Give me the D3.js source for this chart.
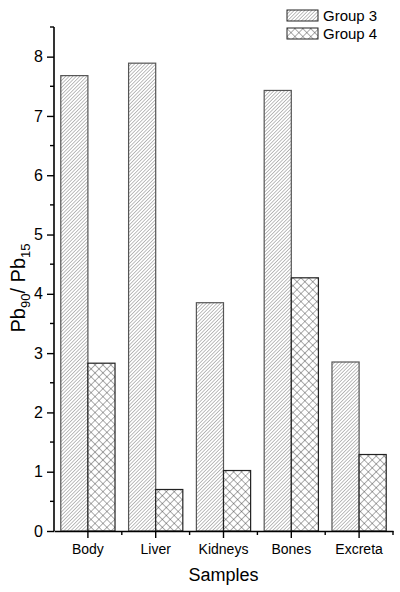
<!DOCTYPE html>
<html lang="en">
<head>
<meta charset="UTF-8">
<title>Pb90 / Pb15 by sample</title>
<script src="https://d3js.org/d3.v7.min.js"></script>
<style>
    body, html { margin: 0; background: #fff; }
    text { font-family: 'Liberation Sans', Arial, sans-serif; fill: #000; }
</style>
</head>
<body>
<script>
    const categories = ["Body", "Liver", "Kidneys", "Bones", "Excreta"];
    const seriesNames = ["Group 3", "Group 4"];
    const group3 = [7.68, 7.89, 3.85, 7.43, 2.85];
    const group4 = [2.83, 0.70, 1.02, 4.27, 1.29];
    const yTicks = [0, 1, 2, 3, 4, 5, 6, 7, 8];

    const width = 400, height = 592;
    const margin = {top: 27, right: 7, bottom: 61, left: 54};

    const svg = d3.select("body").append("svg")
        .attr("width", width)
        .attr("height", height);

    const defs = svg.append("defs");
    // diagonal hatch for group 3
    const s3 = 2.5;
    const p3 = defs.append("pattern")
        .attr("id", "hatch3")
        .attr("patternUnits", "userSpaceOnUse")
        .attr("width", s3).attr("height", s3)
        .attr("patternTransform", "rotate(45)");
    p3.append("rect").attr("width", s3).attr("height", s3).attr("fill", "#fff");
    p3.append("line").attr("x1", 0).attr("y1", 0).attr("x2", 0).attr("y2", s3)
        .attr("stroke", "#444").attr("stroke-width", 0.7);
    // crosshatch for group 4
    const s4 = 5.6;
    const p4 = defs.append("pattern")
        .attr("id", "hatch4")
        .attr("patternUnits", "userSpaceOnUse")
        .attr("width", s4).attr("height", s4)
        .attr("patternTransform", "rotate(45)");
    p4.append("rect").attr("width", s4).attr("height", s4).attr("fill", "#fff");
    p4.append("line").attr("x1", 0).attr("y1", 0).attr("x2", 0).attr("y2", s4)
        .attr("stroke", "#333").attr("stroke-width", 0.8);
    p4.append("line").attr("x1", 0).attr("y1", 0).attr("x2", s4).attr("y2", 0)
        .attr("stroke", "#333").attr("stroke-width", 0.8);

    const xb = d3.scaleBand().domain(categories).range([margin.left, width - margin.right]);
    const xs = d3.scaleBand().domain(seriesNames).range([0, xb.bandwidth() * 0.8]);

    const y = d3.scaleLinear().domain([0, 8.5]).range([height - margin.bottom, margin.top]);

    const series = [group3, group4];
    const fills = ["url(#hatch3)", "url(#hatch4)"];

    const g = svg.append("g");
    series.forEach((vals, si) => {
        g.selectAll(null)
            .data(categories)
            .join("rect")
            .attr("x", c => xb(c) + xb.bandwidth() * 0.1 + xs(seriesNames[si]))
            .attr("y", (c, i) => y(vals[i]))
            .attr("width", xs.bandwidth())
            .attr("height", (c, i) => y(0) - y(vals[i]))
            .attr("fill", fills[si])
            .attr("stroke", si === 0 ? "#555" : "#222")
            .attr("stroke-width", 1.2);
    });

    // y axis
    const yAxis = svg.append("g")
        .attr("transform", `translate(${margin.left},0)`)
        .call(d3.axisLeft(y).tickValues(yTicks).tickSize(7).tickPadding(4).tickFormat(d3.format("d")));
    yAxis.attr("font-size", null).attr("font-family", null);
    yAxis.select(".domain").attr("d", `M-0,${y(8.5)}V${y(0)}`).attr("stroke-width", 1.6);
    yAxis.selectAll(".tick line").attr("stroke-width", 1.4);
    yAxis.selectAll(".tick text").style("font-size", "16px");
    const yMinor = d3.range(0.5, 8.6, 1);
    yAxis.selectAll(".minor").data(yMinor).join("line")
        .attr("x1", -4).attr("x2", 0)
        .attr("y1", d => y(d)).attr("y2", d => y(d))
        .attr("stroke", "#000").attr("stroke-width", 1.4);

    // x axis
    const xAxis = svg.append("g")
        .attr("transform", `translate(0,${y(0)})`)
        .call(d3.axisBottom(xb).tickSize(7).tickPadding(6).tickSizeOuter(0));
    xAxis.attr("font-size", null).attr("font-family", null);
    xAxis.select(".domain").attr("stroke-width", 1.6);
    xAxis.selectAll(".tick line").attr("stroke-width", 1.4);
    xAxis.selectAll(".tick text").style("font-size", "14px");
    xAxis.selectAll(".minor").data(categories).join("line")
        .attr("x1", c => xb(c) + xb.bandwidth()).attr("x2", c => xb(c) + xb.bandwidth())
        .attr("y1", 0).attr("y2", 4)
        .attr("stroke", "#000").attr("stroke-width", 1.4);

    // axis titles
    svg.append("text")
        .attr("x", (margin.left + width - margin.right) / 2)
        .attr("y", 581)
        .attr("text-anchor", "middle")
        .style("font-size", "18px")
        .text("Samples");

    const yl = svg.append("text")
        .attr("transform", `translate(25,288) rotate(-90)`)
        .attr("text-anchor", "middle")
        .style("font-size", "20px");
    yl.append("tspan").text("Pb");
    yl.append("tspan").style("font-size", "13px").attr("dy", 5).text("90");
    yl.append("tspan").attr("dy", -5).text("/ Pb");
    yl.append("tspan").style("font-size", "13px").attr("dy", 5).text("15");

    // legend
    const legend = svg.append("g").attr("transform", "translate(287,10)");
    seriesNames.forEach((name, i) => {
        const row = legend.append("g").attr("transform", `translate(0,${i * 18})`);
        row.append("rect").attr("width", 31).attr("height", 11)
            .attr("fill", fills[i]).attr("stroke", "#222").attr("stroke-width", 1);
        row.append("text").attr("x", 36).attr("y", 11).style("font-size", "15px").text(name);
    });
</script>
</body>
</html>
